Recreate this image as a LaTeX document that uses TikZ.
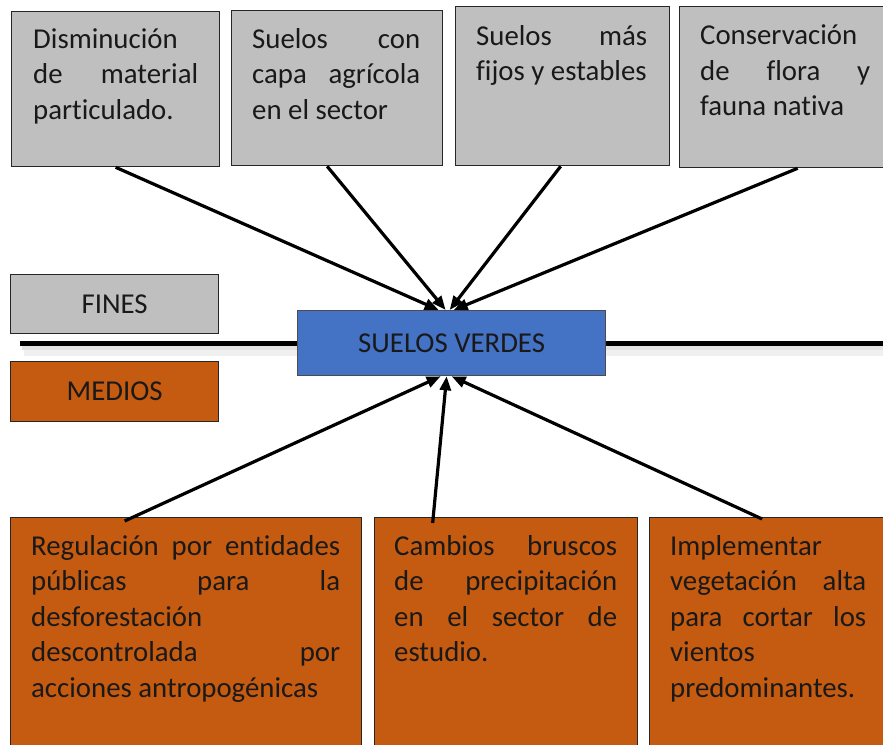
\documentclass[tikz,border=0pt]{standalone}
\usepackage{fontspec}
\setmainfont{Carlito}[Ligatures=NoCommon]
\usetikzlibrary{arrows.meta}
\definecolor{boxgray}{HTML}{BFBFBF}
\definecolor{boxorange}{HTML}{C55A11}
\definecolor{boxblue}{HTML}{4472C4}
\newcommand{\jl}[2]{\makebox[#1][l]{#2}}
\newcommand{\tstrut}{\spaceskip=0pt\xspaceskip=0pt\rule{0pt}{24pt}}
\begin{document}
\begin{tikzpicture}[x=1pt,y=-1pt,
  boxbase/.style={draw=black!85, line width=1.3pt, inner sep=0pt, anchor=north west},
  gbox/.style={boxbase, fill=boxgray},
  obox/.style={boxbase, fill=boxorange},
  bbox/.style={boxbase, fill=boxblue, draw=black!70},
  txt/.style={inner sep=0pt, anchor=north west, align=left, text=black!90,
    font=\fontsize{28.8}{35.5}\selectfont},
  lbl/.style={font=\fontsize{28.8}{35.5}\selectfont, text height=18.5pt, text depth=0pt, text=black!90},
  arr/.style={line width=3.2pt, -{Triangle[length=14pt,width=11pt]}},
]
\useasboundingbox (0,0) rectangle (883,744);
\clip (0,0) rectangle (883,744);

% top boxes
\node[gbox, minimum width=208pt, minimum height=155pt] (b1) at (11,11) {};
\node[gbox, minimum width=211pt, minimum height=155pt] (b2) at (231,10) {};
\node[gbox, minimum width=214pt, minimum height=159pt] (b3) at (455,6) {};
\node[gbox, minimum width=221pt, minimum height=161pt] (b4) at (679,6) {};

\node[txt, text width=180pt] (t1) at (33,24) {\tstrut Disminución\\\jl{165pt}{de\hfill material}\\particulado.};
\node[txt, text width=183pt] (t2) at (252,24) {\tstrut\jl{168pt}{Suelos\hfill con}\\\jl{168pt}{capa\hfill agrícola}\\en el sector};
\node[txt, text width=190pt] (t3) at (476,21) {\tstrut\jl{171pt}{Suelos\hfill más}\\fijos y estables};
\node[txt, text width=185pt] (t4) at (700,20.5) {\tstrut Conservación\\\jl{170pt}{de\hfill flora\hfill y}\\fauna nativa};

% labels
\node[gbox, minimum width=208pt, minimum height=59pt] (fines) at (10,274) {};
\node[lbl] (finest) at (fines.center) {FINES};
\node[obox, minimum width=208pt, minimum height=60pt] (medios) at (10,361) {};
\node[lbl] (mediost) at (medios.center) {MEDIOS};

% horizontal line with soft shadow
\coordinate (hl) at (20,343);
\coordinate (hr) at (890,343);
\draw[gray!12, line width=9pt] (24,351) -- (890,351);
\draw[gray!22, line width=4pt] (22,348) -- (890,348);
\draw[line width=5pt] (hl) -- (hr);

% central box
\node[bbox, minimum width=308pt, minimum height=65pt] (sv) at (297,310) {};
\node[lbl] (svt) at (sv.center) {SUELOS VERDES};

% bottom boxes
\node[obox, minimum width=351pt, minimum height=260pt] (b5) at (10,517) {};
\node[obox, minimum width=263pt, minimum height=260pt] (b6) at (374,517) {};
\node[obox, minimum width=260pt, minimum height=260pt] (b7) at (649,517) {};

\node[txt, text width=325pt] (t5) at (31,531) {\tstrut\jl{309pt}{Regulación\hfill por\hfill entidades}\\\jl{309pt}{públicas\hfill para\hfill la}\\desforestación\\\jl{309pt}{descontrolada\hfill por}\\acciones antropogénicas};
\node[txt, text width=240pt] (t6) at (394,531) {\tstrut\jl{223pt}{Cambios\hfill bruscos}\\\jl{223pt}{de\hfill precipitación}\\\jl{223pt}{en\hfill el\hfill sector\hfill de}\\estudio.};
\node[txt, text width=210pt] (t7) at (670,531) {\tstrut Implementar\\\jl{196pt}{vegetación\hfill alta}\\\jl{196pt}{para\hfill cortar\hfill los}\\vientos\\predominantes.};

% arrows to central box
\draw[arr] (b1.south) -- ([xshift=-13pt]sv.north);
\draw[arr] ([xshift=-10pt]b2.south) -- ([xshift=-6pt]sv.north);
\draw[arr] ([xshift=-2pt]b3.south) -- ([xshift=-2pt]sv.north);
\draw[arr] ([xshift=7.5pt]b4.south) -- ([xshift=2pt]sv.north);
\draw[arr] ([xshift=-61.5pt,yshift=-4pt]b5.north) -- ([xshift=-11pt]sv.south);
\draw[arr] ([xshift=-73.5pt,yshift=-6pt]b6.north) -- ([xshift=-5pt]sv.south);
\draw[arr] ([xshift=-17.5pt,yshift=-2pt]b7.north) -- ([xshift=0pt]sv.south);
\end{tikzpicture}
\end{document}
